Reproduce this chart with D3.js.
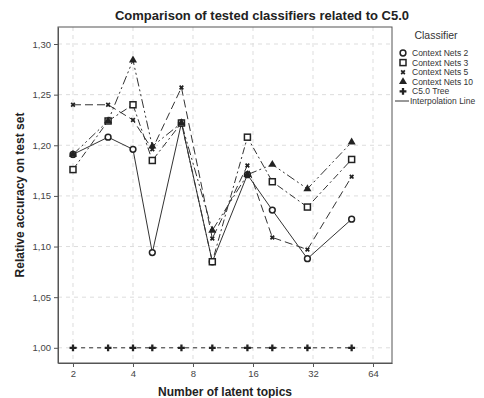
<!DOCTYPE html>
<html lang="en">

<head>
  <meta charset="UTF-8">
  <title>Comparison of tested classifiers</title>
  <style>
    body {
      margin: 0;
      background: #fff;
    }

    svg {
      font-family: "Liberation Sans", Arial, sans-serif;
    }
  </style>
</head>

<body>
  <div id="main"></div>
  <script src="https://d3js.org/d3.v7.min.js"></script>
  <script>
    // data
    const topics = [2, 3, 4, 5, 7, 10, 15, 20, 30, 50]
    const nets2 = [1.191, 1.208, 1.196, 1.094, 1.222, 1.085, 1.171, 1.136, 1.088, 1.127]
    const nets3 = [1.176, 1.224, 1.240, 1.185, 1.222, 1.085, 1.208, 1.164, 1.139, 1.186]
    const nets5 = [1.240, 1.240, 1.225, 1.196, 1.257, 1.108, 1.180, 1.109, 1.097, 1.169]
    const nets10 = [1.191, 1.224, 1.284, 1.199, 1.222, 1.116, 1.171, 1.181, 1.157, 1.203]
    const c50 = [1, 1, 1, 1, 1, 1, 1, 1, 1, 1]
    const xTicks = [2, 4, 8, 16, 32, 64]
    const yTicks = [1.00, 1.05, 1.10, 1.15, 1.20, 1.25, 1.30]

    const series = [
      { name: 'Context Nets 2', values: nets2, shape: 'circle', dash: null },
      { name: 'Context Nets 3', values: nets3, shape: 'square', dash: '7,3,2,3' },
      { name: 'Context Nets 5', values: nets5, shape: 'x', dash: '8,4' },
      { name: 'Context Nets 10', values: nets10, shape: 'triangle', dash: '9,3,2,3,2,3' },
      { name: 'C5.0 Tree', values: c50, shape: 'plus', dash: '4,4' }
    ]

    const [width, height] = [484, 398]
    const margin = { left: 58, right: 92, top: 27, bottom: 35 }

    const svg = d3.select('#main').append('svg')
      .attr('width', width)
      .attr('height', height)
      .attr('viewBox', `0 0 ${width} ${height}`)

    const x = d3.scaleLog().base(2)
      .domain([1.682, 79.7])
      .range([margin.left, width - margin.right])
    const y = d3.scaleLinear()
      .domain([0.985, 1.3168])
      .range([height - margin.bottom, margin.top])

    // grid
    const grid = svg.append('g')
    grid.selectAll('.gx').data(xTicks).join('line')
      .attr('x1', d => x(d)).attr('x2', d => x(d))
      .attr('y1', margin.top).attr('y2', height - margin.bottom)
      .attr('stroke', '#ddd').attr('stroke-dasharray', '4,4')
    grid.selectAll('.gy').data(yTicks).join('line')
      .attr('y1', d => y(d)).attr('y2', d => y(d))
      .attr('x1', margin.left).attr('x2', width - margin.right)
      .attr('stroke', '#ddd').attr('stroke-dasharray', '4,4')

    // frame
    svg.append('rect')
      .attr('x', margin.left).attr('y', margin.top)
      .attr('width', width - margin.left - margin.right)
      .attr('height', height - margin.top - margin.bottom)
      .attr('fill', 'none').attr('stroke', '#555')

    // axes
    const xAxis = svg.append('g')
      .attr('transform', `translate(0 ${height - margin.bottom})`)
      .call(d3.axisBottom(x).tickValues(xTicks).tickFormat(d3.format('d')).tickSize(4).tickSizeOuter(0))
    const yAxis = svg.append('g')
      .attr('transform', `translate(${margin.left} 0)`)
      .call(d3.axisLeft(y).tickValues(yTicks).tickFormat(d => d.toFixed(2).replace('.', ',')).tickSize(4).tickSizeOuter(0))
    ;[xAxis, yAxis].forEach(a => {
      a.select('.domain').attr('stroke', '#555')
      a.selectAll('line').attr('stroke', '#555')
      a.selectAll('text').attr('fill', '#444').style('font-size', '9.5px')
        .style('font-family', '"Liberation Sans", Arial, sans-serif')
    })

    // lines
    const line = d3.line().x(d => x(d[0])).y(d => y(d[1]))
    series.forEach(s => {
      svg.append('path')
        .datum(topics.map((t, i) => [t, s.values[i]]))
        .attr('d', line)
        .attr('fill', 'none')
        .attr('stroke', '#333')
        .attr('stroke-width', 1)
        .attr('stroke-dasharray', s.dash)
    })

    // markers
    function drawMarker(g, shape) {
      if (shape === 'circle') {
        g.append('circle').attr('r', 2.9).attr('fill', '#fff').attr('stroke', '#222').attr('stroke-width', 1.5)
      } else if (shape === 'square') {
        g.append('rect').attr('x', -3).attr('y', -3).attr('width', 6).attr('height', 6)
          .attr('fill', '#fff').attr('stroke', '#222').attr('stroke-width', 1.5)
      } else if (shape === 'x') {
        g.append('path').attr('d', d3.symbol(d3.symbolCross, 15)()).attr('transform', 'rotate(45)').attr('fill', '#222')
      } else if (shape === 'triangle') {
        g.append('path').attr('d', d3.symbol(d3.symbolTriangle, 28)()).attr('fill', '#222')
      } else {
        g.append('path').attr('d', d3.symbol(d3.symbolCross, 26)()).attr('fill', '#222')
      }
    }
    series.forEach(s => {
      topics.forEach((t, i) => {
        const g = svg.append('g').attr('transform', `translate(${x(t)} ${y(s.values[i])})`)
        drawMarker(g, s.shape)
      })
    })

    // title
    svg.append('text')
      .attr('x', 262).attr('y', 20)
      .attr('text-anchor', 'middle')
      .style('font-size', '13px').style('font-weight', 'bold')
      .attr('fill', '#222')
      .text('Comparison of tested classifiers related to C5.0')

    svg.append('text')
      .attr('transform', `translate(24 ${(margin.top + height - margin.bottom) / 2}) rotate(-90)`)
      .attr('text-anchor', 'middle')
      .style('font-size', '12px').style('font-weight', 'bold')
      .attr('fill', '#222')
      .text('Relative accuracy on test set')

    svg.append('text')
      .attr('x', (margin.left + width - margin.right) / 2).attr('y', 396)
      .attr('text-anchor', 'middle')
      .style('font-size', '12px').style('font-weight', 'bold')
      .attr('fill', '#222')
      .text('Number of latent topics')

    // legend
    const legend = svg.append('g')
    legend.append('text').attr('x', 436).attr('y', 39).attr('text-anchor', 'middle')
      .style('font-size', '10.5px').attr('fill', '#333').text('Classifier')
    series.forEach((s, i) => {
      const yy = 53 + i * 9.6
      drawMarker(legend.append('g').attr('transform', `translate(403 ${yy})`), s.shape)
      legend.append('text').attr('x', 412).attr('y', yy + 3).style('font-size', '8.5px')
        .attr('fill', '#333').text(s.name)
    })
    const ly = 53 + 5 * 9.6
    legend.append('line').attr('x1', 395).attr('x2', 409).attr('y1', ly).attr('y2', ly).attr('stroke', '#333')
    legend.append('text').attr('x', 410).attr('y', ly + 3).style('font-size', '8.5px')
      .attr('fill', '#333').text('Interpolation Line')
  </script>
</body>

</html>
